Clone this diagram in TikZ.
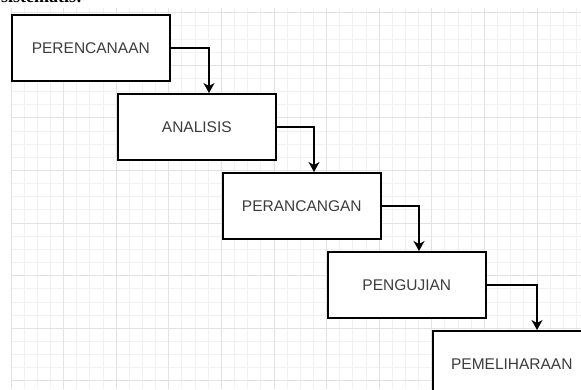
\documentclass[tikz,border=0pt]{standalone}
\usepackage{fontspec}
\setmainfont{Liberation Sans}
\newfontfamily\serifbold{Liberation Serif}
\usetikzlibrary{arrows.meta}
\definecolor{gridminor}{HTML}{F1F1F1}
\definecolor{gridmajor}{HTML}{E2E2E2}
\definecolor{labelgray}{HTML}{3C3C3C}
\begin{document}
\begin{tikzpicture}[x=1pt,y=-1pt,
    stage/.style={draw=black,line width=1.6pt,fill=white,anchor=north west,
      minimum width=158pt,minimum height=66pt,inner sep=0pt,
      font=\fontsize{15.5}{18}\selectfont,text=labelgray},
    flow/.style={line width=1.5pt,-{Stealth[length=10pt,width=11pt,inset=3pt]}}]
      \useasboundingbox (0,0) rectangle (581,389);
      \clip (0,0) rectangle (581,389);
      \fill[white] (0,0) rectangle (581,389);
      \node[anchor=base west,inner sep=0pt] (judul) at (1,2.5)
        {\serifbold\bfseries\fontsize{18}{20}\selectfont sistematis:};
      \begin{scope}
        \clip (11,8) rectangle (581,389);
        \foreach \i in {0,...,44} {
          \draw[gridminor,line width=1pt] (11+13.15*\i,8) -- (11+13.15*\i,389);
          \draw[gridminor,line width=1pt] (11,12.7+13.15*\i) -- (581,12.7+13.15*\i);
        }
        \foreach \i in {0,...,11} {
          \draw[gridmajor,line width=1pt] (11+52.6*\i,8) -- (11+52.6*\i,389);
          \draw[gridmajor,line width=1pt] (11,12.7+52.6*\i) -- (581,12.7+52.6*\i);
        }
      \end{scope}
      \node[stage] (rencana) at (11,14) {PERENCANAAN};
      \node[stage] (analisis) at (117,93) {ANALISIS};
      \node[stage] (rancang) at (222,172) {PERANCANGAN};
      \node[stage] (uji) at (327,251) {PENGUJIAN};
      \node[stage] (pelihara) at (432,330) {PEMELIHARAAN};
      \draw[flow] (rencana.east) -| ([xshift=92pt]analisis.north west);
      \draw[flow] (analisis.east) -| ([xshift=92pt]rancang.north west);
      \draw[flow] (rancang.east) -| ([xshift=92pt]uji.north west);
      \draw[flow] (uji.east) -| ([xshift=105pt]pelihara.north west);
\end{tikzpicture}
\end{document}
